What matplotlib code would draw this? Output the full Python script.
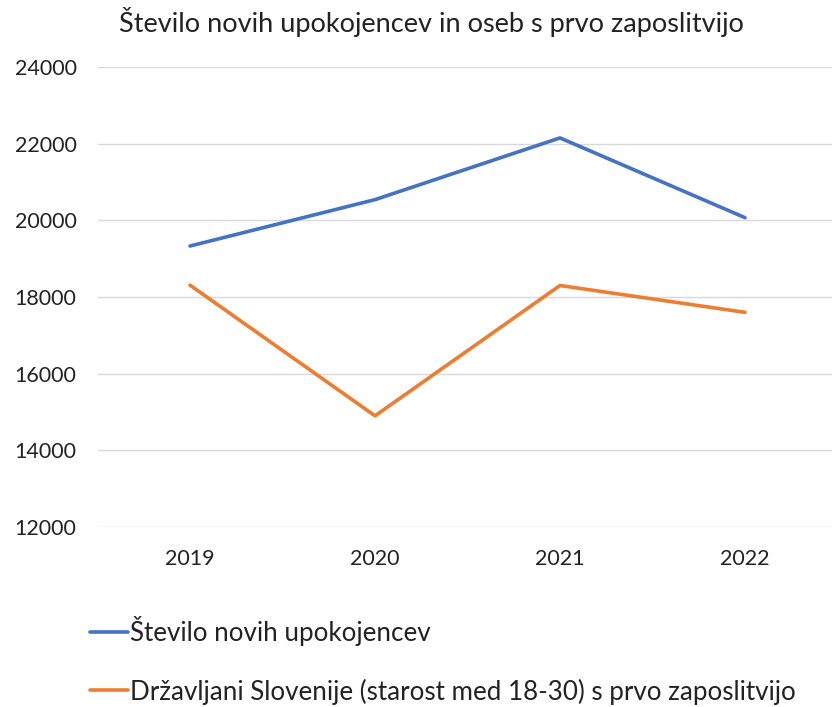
import matplotlib
matplotlib.use("Agg")
import matplotlib.pyplot as plt

years = ["2019", "2020", "2021", "2022"]
upokojenci = [19330, 20540, 22150, 20070]
zaposleni = [18310, 14900, 18300, 17600]
yticks = [12000, 14000, 16000, 18000, 20000, 22000, 24000]
title = "Število novih upokojencev in oseb s prvo zaposlitvijo"
label1 = "Število novih upokojencev"
label2 = "Državljani Slovenije (starost med 18-30) s prvo zaposlitvijo"

plt.rcParams['font.family'] = ['Lato', 'DejaVu Sans']

W, H = 832, 707
fig = plt.figure(figsize=(W/100, H/100), dpi=100)
left = 97.5 / W
right = 837.5 / W
top = 1 - 67 / H
bottom = 1 - 527 / H
ax = fig.add_axes([left, bottom, right - left, top - bottom])

x = list(range(len(years)))
ax.plot(x, upokojenci, color="#4472C4", lw=2.6, label=label1, solid_capstyle="round")
ax.plot(x, zaposleni, color="#ED7D31", lw=2.6, label=label2, solid_capstyle="round")

ax.set_xlim(-0.5, len(years) - 0.5)
ax.set_ylim(12000, 24000)
ax.set_yticks(yticks)
ax.set_yticklabels([str(v) for v in yticks], fontsize=15.5, color="#222222")
ax.set_xticks(x)
ax.set_xticklabels(years, fontsize=15.5, color="#222222")
ax.tick_params(length=0)
ax.tick_params(axis='y', pad=15)
ax.tick_params(axis='x', pad=16)
for s in ax.spines.values():
    s.set_visible(False)
ax.grid(axis='y', color="#D9D9D9", lw=1)
ax.set_axisbelow(True)

fig.text(431 / W, 1 - 22 / H, title, ha='center', va='center', fontsize=19.5, color="#222222")

leg = fig.legend(loc='upper left', bbox_to_anchor=(90 / W, 1 - 616 / H), frameon=False,
                 fontsize=18.7, handlelength=1.45, handletextpad=0.1, labelspacing=1.25,
                 borderaxespad=0, borderpad=0)
for t in leg.get_texts():
    t.set_color("#222222")

fig.savefig("out.png", dpi=100)
